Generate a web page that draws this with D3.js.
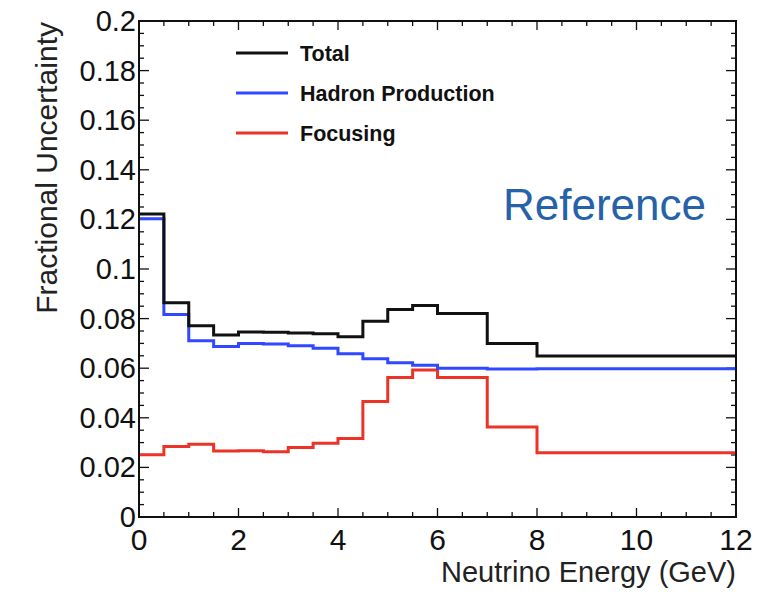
<!DOCTYPE html>
<html>
<head>
<meta charset="utf-8">
<script src="https://cdn.jsdelivr.net/npm/d3@7"></script>
<style>
  body { margin: 0; background: #fff; }
  svg { display: block; }
  .tickLabel { font-family: "Liberation Sans", Arial, sans-serif; fill: #111; }
  .axisTitle { font-family: "Liberation Sans", Arial, sans-serif; fill: #222; }
  .legendText { font-family: "Liberation Sans", Arial, sans-serif; font-weight: bold; fill: #111; }
</style>
</head>
<body>
<div id="chart"></div>
<script>
// bin edges in GeV, one value per bin
const binEdges = [0, 0.5, 1, 1.5, 2, 2.5, 3, 3.5, 4, 4.5, 5, 5.5, 6, 7, 8, 12];
const totalUnc = [0.1222, 0.0864, 0.0771, 0.0734, 0.0746, 0.0745, 0.0742, 0.0739, 0.0727, 0.0789, 0.0837, 0.0853, 0.0821, 0.0700, 0.0649];
const hadronUnc = [0.1203, 0.0817, 0.0711, 0.0687, 0.0700, 0.0698, 0.0691, 0.0680, 0.0658, 0.0638, 0.0622, 0.0612, 0.0600, 0.0597, 0.0598];
const focusingUnc = [0.0251, 0.0284, 0.0293, 0.0266, 0.0267, 0.0263, 0.0280, 0.0297, 0.0317, 0.0466, 0.0562, 0.0593, 0.0562, 0.0363, 0.0259];

const xTicks = [0, 2, 4, 6, 8, 10, 12];
const yTicks = [0, 0.02, 0.04, 0.06, 0.08, 0.1, 0.12, 0.14, 0.16, 0.18, 0.2];
const legendLabels = ['Total', 'Hadron Production', 'Focusing'];

const width = 783, height = 595;
const margin = {top: 21, right: 47, bottom: 78, left: 139};
const innerW = width - margin.left - margin.right;
const innerH = height - margin.top - margin.bottom;

const svg = d3.select('#chart').append('svg')
    .attr('width', width)
    .attr('height', height);

const g = svg.append('g')
    .attr('transform', `translate(${margin.left},${margin.top})`);

const x = d3.scaleLinear().domain([0, 12]).range([0, innerW]);
const y = d3.scaleLinear().domain([0, 0.2]).range([innerH, 0]);

// minor ticks
const xMinor = d3.range(0, 12.001, 0.5);
const yMinor = d3.range(0, 0.2001, 0.005);

const tickG = g.append('g').attr('stroke', '#111').attr('stroke-width', 1.3);
xMinor.forEach(v => {
    const major = Math.abs(v / 2 - Math.round(v / 2)) < 1e-6;
    const len = major ? 9 : 5;
    tickG.append('line').attr('x1', x(v)).attr('x2', x(v)).attr('y1', innerH).attr('y2', innerH - len);
    tickG.append('line').attr('x1', x(v)).attr('x2', x(v)).attr('y1', 0).attr('y2', len);
});
yMinor.forEach(v => {
    const major = Math.abs(v / 0.02 - Math.round(v / 0.02)) < 1e-6;
    const len = major ? 10 : 5;
    tickG.append('line').attr('x1', 0).attr('x2', len).attr('y1', y(v)).attr('y2', y(v));
    tickG.append('line').attr('x1', innerW).attr('x2', innerW - len).attr('y1', y(v)).attr('y2', y(v));
});

// tick labels
g.selectAll('.xLab').data(xTicks).enter().append('text')
    .attr('class', 'tickLabel')
    .attr('x', d => x(d))
    .attr('y', innerH + 33)
    .attr('text-anchor', 'middle')
    .style('font-size', '30px')
    .text(d => d);

g.selectAll('.yLab').data(yTicks).enter().append('text')
    .attr('class', 'tickLabel')
    .attr('x', -3)
    .attr('y', d => y(d) + 10)
    .attr('text-anchor', 'end')
    .style('font-size', '29px')
    .text(d => d3.format('~g')(d));

// axis titles
g.append('text')
    .attr('class', 'axisTitle')
    .attr('x', innerW)
    .attr('y', innerH + 65)
    .attr('text-anchor', 'end')
    .style('font-size', '29px')
    .text('Neutrino Energy (GeV)');

g.append('text')
    .attr('class', 'axisTitle')
    .attr('transform', 'rotate(-90)')
    .attr('x', -1)
    .attr('y', -82)
    .attr('text-anchor', 'end')
    .style('font-size', '30px')
    .text('Fractional Uncertainty');

// histograms as steps
const stepLine = d3.line()
    .x(d => x(d[0]))
    .y(d => y(d[1]))
    .curve(d3.curveStepAfter);

function toSteps(vals) {
    const pts = vals.map((v, i) => [binEdges[i], v]);
    pts.push([binEdges[binEdges.length - 1], vals[vals.length - 1]]);
    return pts;
}

const series = [
    {name: legendLabels[0], values: totalUnc, color: '#111111'},
    {name: legendLabels[1], values: hadronUnc, color: '#3048ff'},
    {name: legendLabels[2], values: focusingUnc, color: '#ec3328'}
];

// draw red first, black on top of blue like the original
[series[2], series[1], series[0]].forEach(s => {
    g.append('path')
        .datum(toSteps(s.values))
        .attr('fill', 'none')
        .attr('stroke', s.color)
        .attr('stroke-width', 3)
        .attr('d', stepLine);
});

// frame
g.append('rect')
    .attr('width', innerW)
    .attr('height', innerH)
    .attr('fill', 'none')
    .attr('stroke', '#111')
    .attr('stroke-width', 2);

// legend
const legend = svg.append('g');
series.forEach((s, i) => {
    const ly = 53 + i * 40;
    legend.append('line')
        .attr('x1', 236).attr('x2', 288)
        .attr('y1', ly).attr('y2', ly)
        .attr('stroke', s.color)
        .attr('stroke-width', 3);
    legend.append('text')
        .attr('class', 'legendText')
        .attr('x', 300)
        .attr('y', ly + 8)
        .style('font-size', '21.5px')
        .text(s.name);
});

// watermark label
svg.append('text')
    .attr('x', 503)
    .attr('y', 220)
    .style('font-family', '"Liberation Sans", Arial, sans-serif')
    .style('font-size', '44px')
    .style('fill', '#2562a8')
    .text('Reference');
</script>
</body>
</html>
